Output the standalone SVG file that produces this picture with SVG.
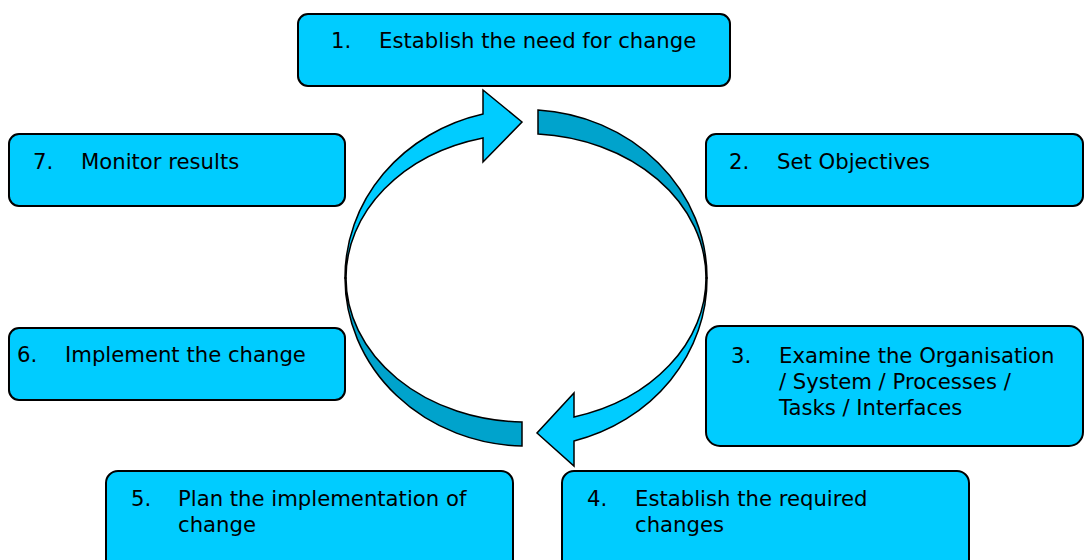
<svg xmlns="http://www.w3.org/2000/svg" width="1084" height="560" viewBox="0 0 1084 560">
<style>
.box{fill:#00CCFF;stroke:#000;stroke-width:2}
.light{fill:#00CCFF;stroke:#000;stroke-width:1.5;stroke-linejoin:miter}
.dark{fill:#00A3CC;stroke:#000;stroke-width:1.5}
text{font-family:"DejaVu Sans",Verdana,sans-serif;font-size:21.2px;fill:#000}
</style>
<rect width="1084" height="560" fill="#fff"/>
<g id="connectors">
<path class="dark" d="M538,110 A181,168 0 0 1 707,278 L706,278 A180,144 0 0 0 538,134 Z"/>
<path class="dark" d="M345,278 A181,168 0 0 0 522,446 L522,422 A180,144 0 0 1 346,278 Z"/>
<path class="light" d="M345,278 A181,168 0 0 1 483,114 L483,90 L522,122 L483,162 L483,138 A180,144 0 0 0 346,278 Z"/>
<path class="light" d="M707,278 A181,168 0 0 1 574,441 L574,466 L537,433 L574,393 L574,417 A180,144 0 0 0 706,278 Z"/>
</g>
<g id="n1"><rect class="box" x="298" y="14" width="432" height="72" rx="10"/><text x="331" y="48">1.</text><text x="379" y="48">Establish the need for change</text></g>
<g id="n2"><rect class="box" x="706" y="134" width="377" height="72" rx="10"/><text x="729" y="169">2.</text><text x="777" y="169">Set Objectives</text></g>
<g id="n3"><rect class="box" x="706" y="326" width="377" height="120" rx="14"/><text x="731" y="363">3.</text><text x="779" y="363">Examine the Organisation</text><text x="779" y="389">/ System / Processes /</text><text x="779" y="415">Tasks / Interfaces</text></g>
<g id="n4"><rect class="box" x="562" y="471" width="407" height="110" rx="12"/><text x="587" y="506">4.</text><text x="635" y="506">Establish the required</text><text x="635" y="532">changes</text></g>
<g id="n5"><rect class="box" x="106" y="471" width="407" height="110" rx="12"/><text x="131" y="506">5.</text><text x="178" y="506">Plan the implementation of</text><text x="178" y="532">change</text></g>
<g id="n6"><rect class="box" x="9" y="328" width="336" height="72" rx="10"/><text x="17" y="362">6.</text><text x="65" y="362">Implement the change</text></g>
<g id="n7"><rect class="box" x="9" y="134" width="336" height="72" rx="10"/><text x="33" y="169">7.</text><text x="81" y="169">Monitor results</text></g>
</svg>
